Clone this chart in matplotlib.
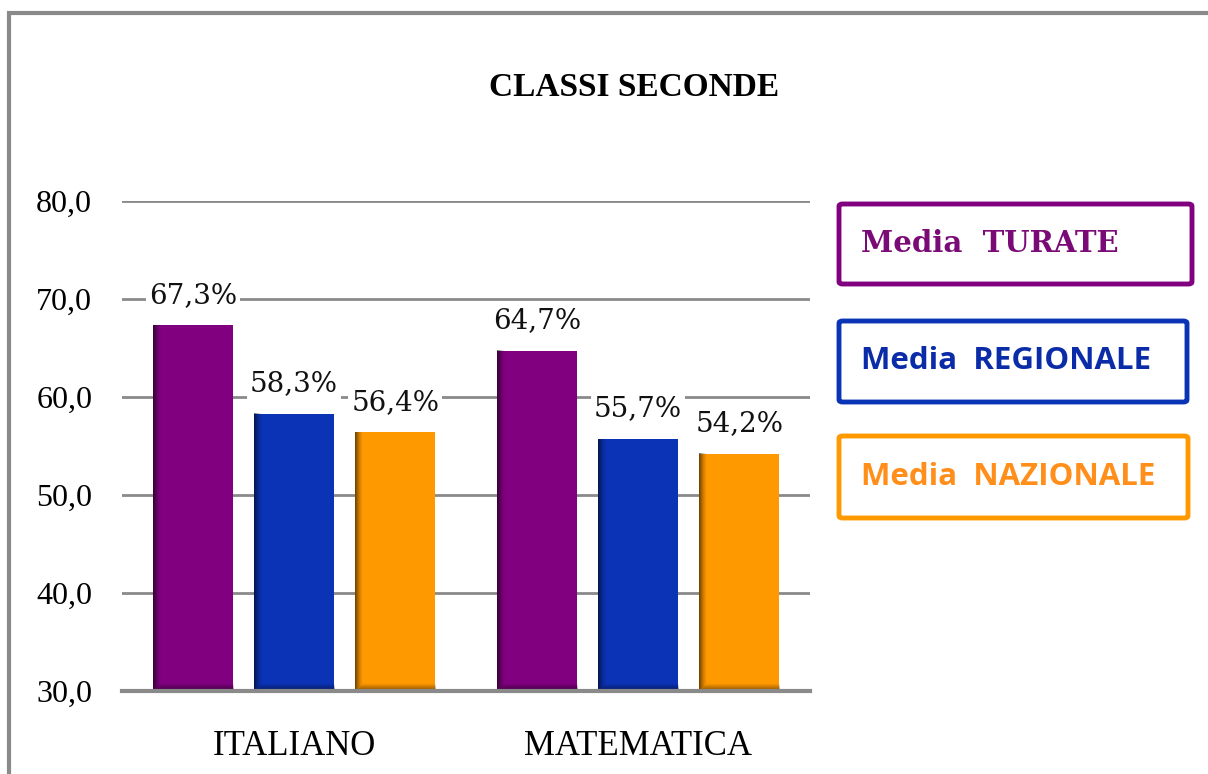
import numpy as np
import matplotlib
matplotlib.use("Agg")
import matplotlib.pyplot as plt
from matplotlib.patches import Rectangle, FancyBboxPatch

# data
categories = ["ITALIANO", "MATEMATICA"]
series_names = ["Media  TURATE", "Media  REGIONALE", "Media  NAZIONALE"]
turate = [67.3, 64.7]
regionale = [58.3, 55.7]
nazionale = [56.4, 54.2]
yticks = [30, 40, 50, 60, 70, 80]

colors = ["#800080", "#0B33B5", "#FF9900"]
text_colors = ["#7A0A76", "#0B2CA8", "#FF8F1A"]
W, H = 1208, 774

fig = plt.figure(figsize=(W / 100, H / 100), dpi=100)
ax = fig.add_axes([122 / W, 1 - 691 / H, 688 / W, 490 / H])

x = np.arange(len(categories))
step = 0.294
bw = 0.233
all_series = [turate, regionale, nazionale]
for i, vals in enumerate(all_series):
    pos = x + (i - 1) * step
    bars = ax.bar(pos, np.array(vals) - 30, bottom=30, width=bw, color=colors[i], zorder=3)
    for b, v in zip(bars, vals):
        bx, bwid, top = b.get_x(), b.get_width(), b.get_y() + b.get_height()
        # bevel shading on left and top edge
        nx, ny = 80, 200
        xf = np.linspace(0, 1, nx)[None, :]
        yd = np.linspace(top - 30, 0, ny)[:, None]
        a_left = 0.55 * np.clip(1 - xf / 0.1, 0, 1) ** 1.5
        a_top = 0.45 * np.clip(1 - yd / 0.7, 0, 1)
        alpha = np.maximum(a_left * np.ones_like(yd), a_top * np.ones_like(xf))
        img = np.zeros((ny, nx, 4))
        img[..., 3] = alpha
        ax.imshow(img, extent=(bx, bx + bwid, 30, top), aspect="auto",
                  interpolation="bilinear", zorder=4)
        ax.annotate(f"{v:.1f}%".replace(".", ","), (b.get_x() + bwid / 2, top),
                    xytext=(0, 12), textcoords="offset points", ha="center", va="bottom",
                    fontsize=20, family="DejaVu Serif", color="#111111", zorder=5,
                    bbox=dict(boxstyle="square,pad=0.1", fc="white", ec="none"))

ax.set_xlim(-0.5, 1.5)
ax.set_ylim(30, 80)
ax.set_yticks(yticks)
ax.set_yticklabels([f"{t:.1f}".replace(".", ",") for t in yticks],
                   fontsize=23, family="Liberation Serif")
ax.set_xticks(x)
ax.set_xticklabels(categories, fontsize=25, family="Liberation Serif")
ax.tick_params(axis="y", length=0, pad=21.5)
ax.tick_params(axis="x", length=0, pad=28)
ax.yaxis.grid(True, color="#8a8a8a", linewidth=2, zorder=0)
ax.set_axisbelow(True)
for s in ["top", "right", "left"]:
    ax.spines[s].set_visible(False)
ax.spines["bottom"].set_color("#8a8a8a")
ax.spines["bottom"].set_linewidth(3)
ax.spines["bottom"].set_zorder(6)

fig.text(634 / W, 1 - 87 / H, "CLASSI SECONDE", ha="center", va="center",
         fontsize=24, fontweight="bold", family="Liberation Serif")

# outer frame (only left and top visible)
fig.add_artist(Rectangle((9 / W, -0.1), 1.2, 1.1 - 13 / H, transform=fig.transFigure,
                         fill=False, ec="#8a8a8a", lw=3))

# legend boxes
boxes = [(839, 204, 353, 80), (839, 321, 348, 81), (839, 436, 349, 82)]
fams = ["DejaVu Serif", "Open Sans", "Open Sans"]
sizes = [21, 22.5, 22.5]
for (bx, by, bw_, bh), name, c, tc, fam, fs in zip(boxes, series_names, colors,
                                                   text_colors, fams, sizes):
    fig.add_artist(FancyBboxPatch((bx / W, 1 - (by + bh) / H), bw_ / W, bh / H,
                                  boxstyle="round,pad=0,rounding_size=0.003",
                                  transform=fig.transFigure, fill=False, ec=c, lw=3.5))
    fig.text(861 / W, 1 - (by + bh / 2) / H, name, ha="left", va="center",
             fontsize=fs, fontweight="bold", family=fam, color=tc)

fig.savefig("out.png", dpi=100)
